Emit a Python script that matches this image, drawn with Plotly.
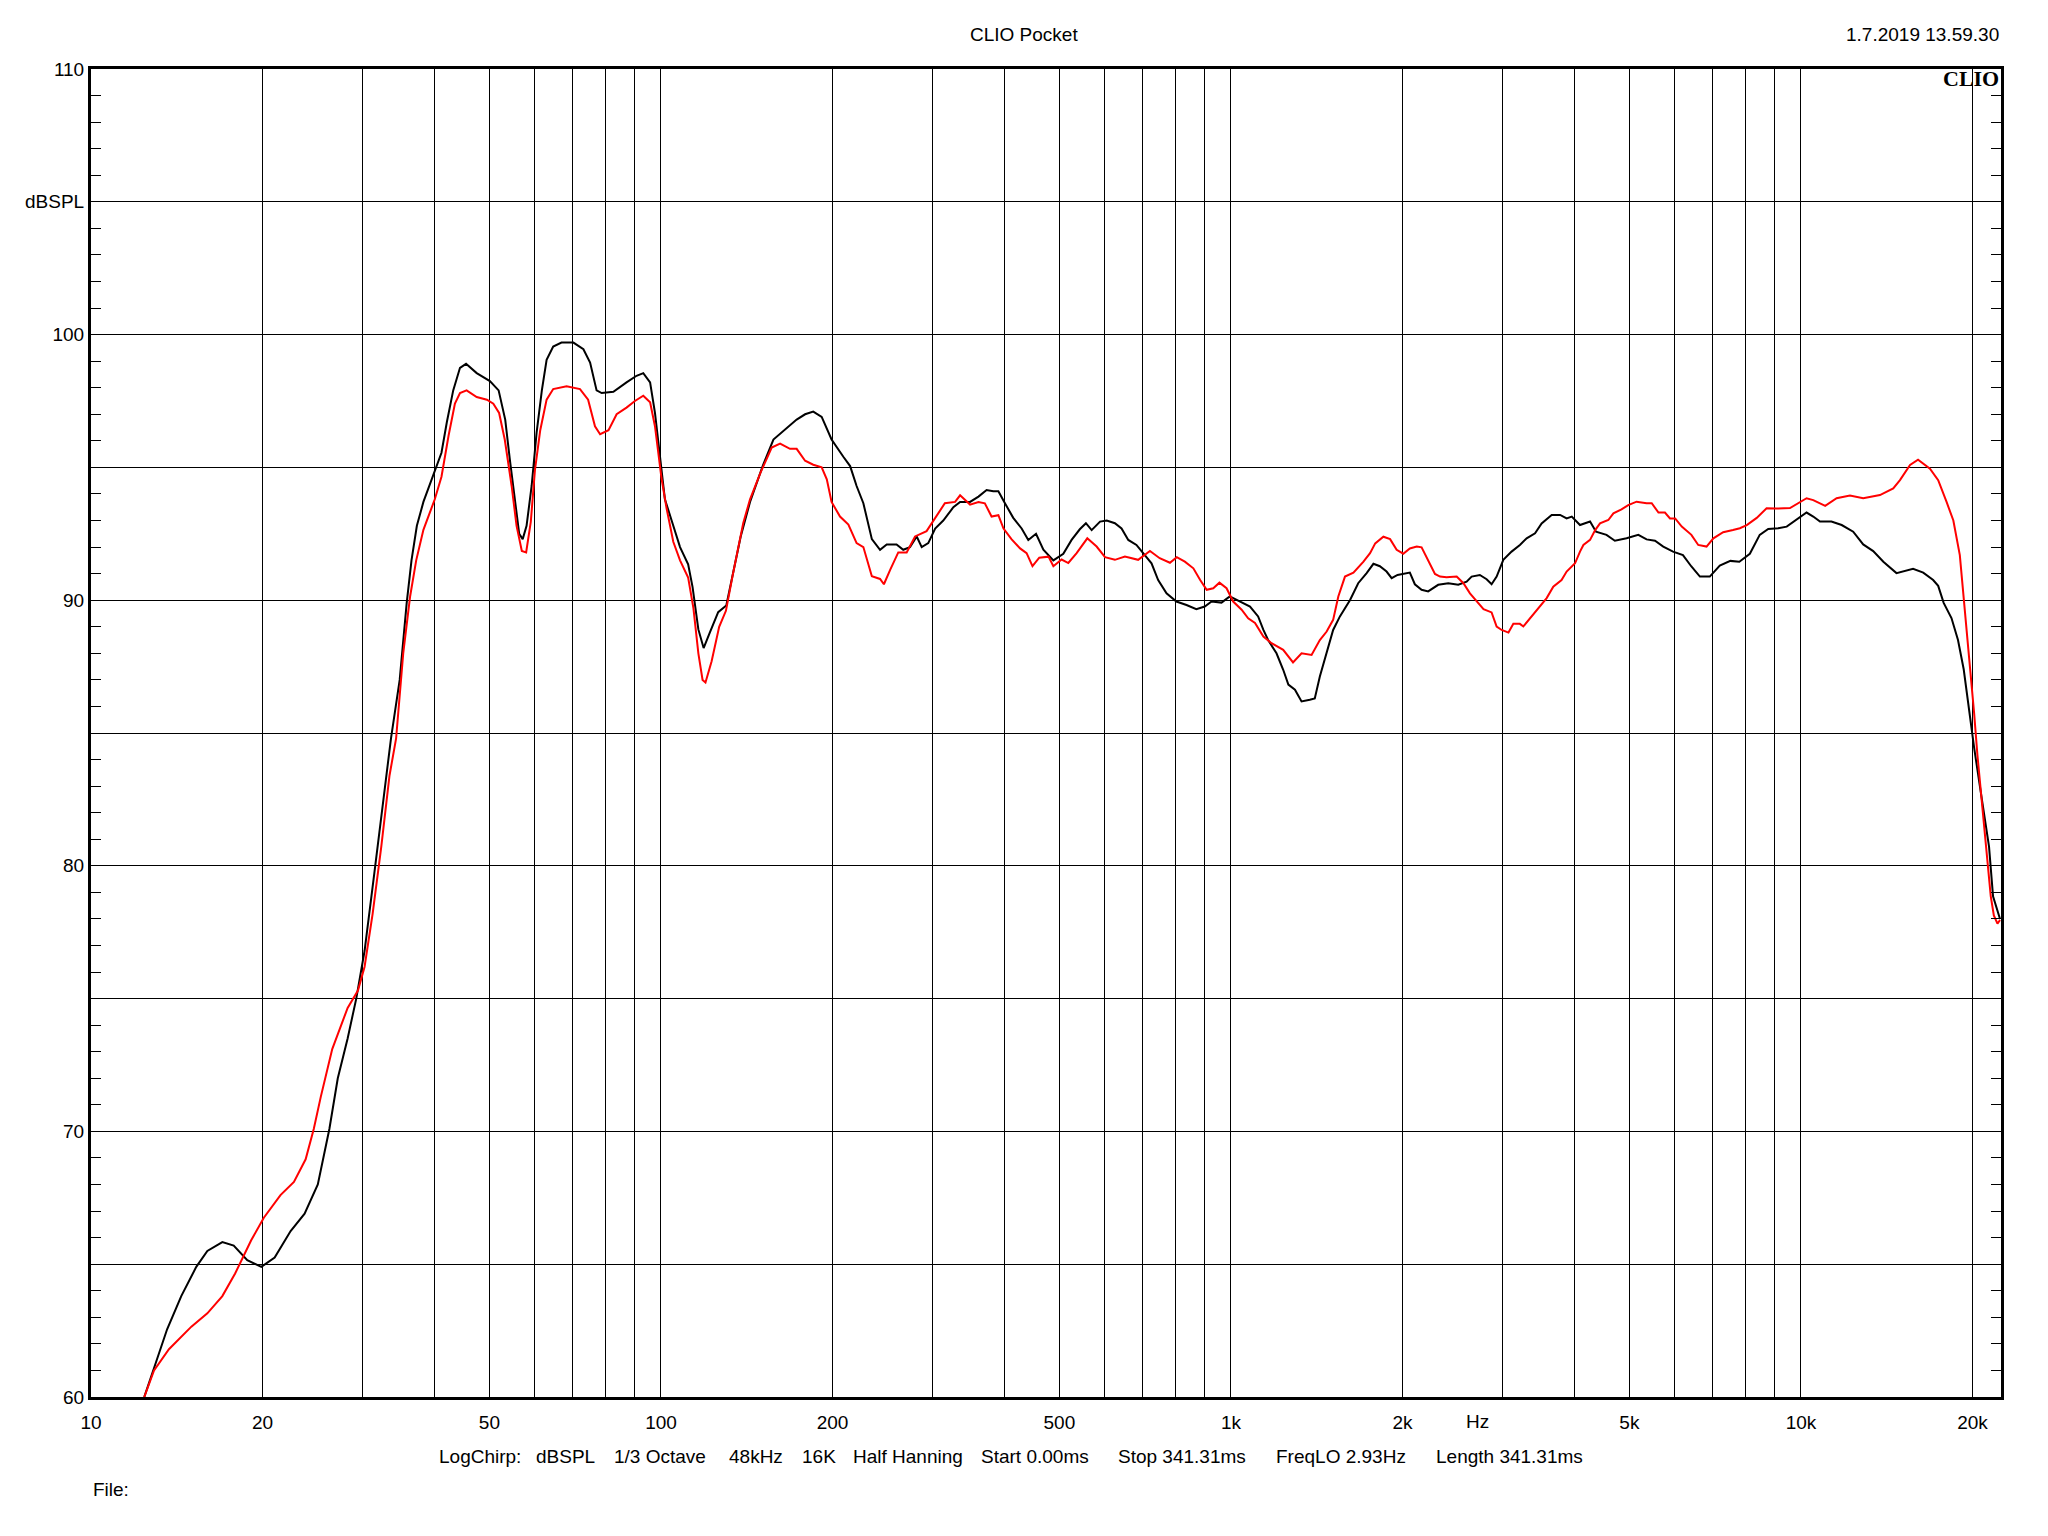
import plotly.graph_objects as go

# ---- data (frequency in Hz, level in dBSPL) ----
black_freq = [12.4, 13.6, 14.4, 15.3, 16.0, 17.0, 17.8, 18.8, 19.9, 21.0, 22.4, 23.7, 25.0, 26.2, 27.1, 28.2,
              29.2, 30.2, 31.4, 32.7, 33.6, 34.8, 35.8, 36.5, 37.3, 38.3, 39.9, 41.2, 42.1, 43.2, 44.4, 45.5,
              47.5, 50.1, 51.9, 53.3, 54.3, 55.5, 56.4, 57.2, 58.1, 59.3, 60.5, 61.8, 63.0, 64.7, 66.9, 70.2,
              73.1, 75.1, 77.1, 78.7, 82.5, 87.0, 90.6, 93.1, 95.7, 97.6, 99.6, 101.6, 104.4, 108.0, 111.6,
              113.6, 116.3, 118.8, 121.9, 126.0, 130.2, 133.9, 138.0, 143.3, 150.8, 157.5, 166.3, 173.0,
              179.0, 185.0, 191.4, 199.2, 208.9, 214.7, 220.4, 226.5, 234.4, 242.3, 248.9, 259.0, 266.1,
              273.4, 281.0, 286.7, 294.4, 302.7, 312.8, 325.8, 334.8, 348.5, 360.6, 372.6, 382.8, 390.8,
              401.3, 415, 429.3, 441, 455, 468.7, 488, 508, 525.3, 543, 556.6, 569.6, 589.3, 605.5, 625.7,
              642.7, 660.5, 682.6, 701.4, 725.5, 745.2, 770.8, 802.2, 835.6, 869.5, 899.5, 924.6, 962.5,
              995.2, 1036, 1080, 1116, 1140, 1162, 1202, 1235, 1261, 1295, 1330, 1375, 1403, 1432, 1472,
              1511, 1553, 1618, 1672, 1730, 1778, 1825, 1875, 1914, 1960, 2060, 2102, 2160, 2218, 2310,
              2406, 2505, 2591, 2644, 2733, 2809, 2866, 2925, 3005, 3107, 3213, 3302, 3416, 3508, 3653,
              3780, 3881, 3962, 4096, 4266, 4370, 4559, 4716, 4944, 5184, 5360, 5546, 5734, 5965, 6209,
              6424, 6649, 6920, 7205, 7520, 7797, 8135, 8466, 8762, 9123, 9441, 9825, 10230, 10510, 10800,
              11310, 11790, 12350, 12860, 13390, 13950, 14710, 15220, 15730, 16390, 17060, 17410, 17800,
              18370, 18860, 19300, 19700, 20130, 20550, 20960, 21380, 21730, 22120, 22350]
black_db = [60.0, 62.55, 63.8, 64.9, 65.5, 65.83, 65.7, 65.15, 64.9, 65.25, 66.25, 66.9, 68.0, 70.1, 72.0, 73.5,
            75.0, 76.8, 79.7, 82.7, 84.8, 87.0, 89.9, 91.5, 92.8, 93.7, 94.7, 95.55, 96.7, 97.9, 98.75, 98.9,
            98.55, 98.25, 97.9, 96.8, 95.3, 93.55, 92.5, 92.3, 92.8, 94.3, 96.3, 97.9, 99.05, 99.55, 99.7, 99.7,
            99.45, 98.95, 97.9, 97.8, 97.85, 98.2, 98.45, 98.55, 98.2, 97.05, 95.3, 93.8, 93.0, 92.0, 91.35,
            90.5, 88.9, 88.2, 88.8, 89.55, 89.8, 91.1, 92.4, 93.7, 95.05, 96.05, 96.5, 96.8,
            97.0, 97.1, 96.9, 96.05, 95.4, 95.05, 94.3, 93.65, 92.3, 91.9, 92.1, 92.1, 91.9,
            92.0, 92.4, 92.0, 92.15, 92.7, 93.0, 93.5, 93.7, 93.7, 93.9, 94.15, 94.1, 94.1,
            93.65, 93.1, 92.7, 92.27, 92.5, 91.9, 91.5, 91.75, 92.27, 92.67, 92.9, 92.64, 92.96, 93.0, 92.9,
            92.7, 92.27, 92.08, 91.77, 91.39, 90.76, 90.26, 89.95, 89.82, 89.66, 89.76, 89.95, 89.91,
            90.14, 89.95, 89.76, 89.39, 88.88, 88.5, 88.0, 87.38, 86.82, 86.63, 86.19, 86.25, 86.3, 87.13, 88.0,
            88.88, 89.39, 90.01, 90.64, 91.02, 91.37, 91.28, 91.08, 90.83, 90.95, 91.04, 90.6, 90.39, 90.33, 90.58,
            90.64, 90.58, 90.7, 90.89, 90.95, 90.79, 90.6, 90.89, 91.52, 91.83, 92.08, 92.33, 92.52, 92.89, 93.21,
            93.21, 93.08, 93.15, 92.83, 92.96, 92.58, 92.46, 92.24, 92.33, 92.46, 92.29, 92.24, 92.02, 91.83, 91.7,
            91.27, 90.89, 90.89, 91.3, 91.48, 91.45, 91.75, 92.46, 92.68, 92.71, 92.77, 93.05, 93.3, 93.15, 92.96,
            92.96, 92.83, 92.58, 92.1, 91.85, 91.45, 91.02, 91.1, 91.18, 91.04, 90.76, 90.54, 89.9,
            89.33, 88.5, 87.4, 85.9, 84.45, 83.16, 82.0, 80.72, 78.85, 78.27, 78.0]

red_freq = [12.4, 12.9, 13.7, 15.0, 16.0, 17.0, 17.9, 19.1, 20.1, 21.5, 22.7, 23.8, 24.6, 25.3, 26.5, 28.2,
            29.4, 30.2, 31.2, 32.3, 33.4, 34.3, 35.3, 36.3, 37.2, 38.3, 40.1, 41.2, 42.4, 43.5, 44.4, 45.6,
            47.5, 49.5, 50.8, 52.0, 53.2, 54.7, 55.8, 57.0, 58.0, 59.1, 60.1, 61.4, 63.0, 64.7, 68.3, 72.1,
            74.5, 76.6, 78.2, 80.9, 83.6, 87.0, 90.0, 93.1, 95.7, 97.6, 100.2, 102.3, 105.1, 108.0, 111.6,
            114.0, 116.3, 118.3, 119.7, 122.7, 126.5, 130.0, 133.5, 136.5, 139.4, 143.3, 149.5, 156.4,
            161.8, 168.4, 173.0, 179.0, 185.0, 191.4, 195.4, 199.2, 206.1, 213.2, 220.4, 226.5, 234.4,
            242.3, 246.1, 252.5, 260.8, 269.8, 279.1, 292.4, 304.7, 314.8, 328.1, 334.8, 348.5, 360.6,
            370.0, 380.2, 390.8, 399.0, 412, 426.6, 438, 448.5, 461, 478.5, 488, 504.5, 518.4, 536.1, 559.7,
            581.2, 601.2, 625.7, 651.6, 687.3, 720.9, 749.9, 781.5, 803.5, 830, 859.1, 883.1, 906.6, 931,
            954.5, 982.3, 1009, 1044, 1072, 1102, 1140, 1178, 1235, 1285, 1330, 1385, 1432, 1472, 1511,
            1543, 1585, 1640, 1708, 1754, 1791, 1851, 1902, 1953, 2006, 2060, 2118, 2160, 2218, 2280,
            2327, 2389, 2489, 2558, 2626, 2698, 2774, 2866, 2925, 2985, 3068, 3129, 3213, 3258, 3369,
            3482, 3580, 3677, 3802, 3881, 4015, 4096, 4153, 4266, 4355, 4441, 4593, 4688, 4844, 4978,
            5148, 5360, 5473, 5624, 5773, 5892, 6016, 6179, 6424, 6604, 6830, 7021, 7304, 7599, 7813,
            8035, 8364, 8704, 9060, 9568, 9955, 10230, 10510, 11030, 11550, 12190, 12860, 13760, 14520,
            14920, 15540, 16050, 16840, 17410, 18010, 18510, 19000, 19330, 19600, 19860, 20130, 20400,
            20700, 20960, 21250, 21530, 21800, 22120, 22350]
red_db = [60.0, 61.0, 61.8, 62.65, 63.15, 63.8, 64.65, 65.9, 66.75, 67.6, 68.1, 68.95, 70.1, 71.3, 73.1, 74.65,
          75.3, 76.2, 78.2, 80.7, 83.4, 84.8, 88.0, 90.15, 91.5, 92.65, 93.8, 94.65, 96.2, 97.4, 97.8, 97.9,
          97.65, 97.55, 97.4, 97.05, 96.05, 94.3, 92.8, 91.85, 91.8, 92.95, 94.9, 96.4, 97.55, 97.95, 98.05, 97.95,
          97.55, 96.55, 96.25, 96.4, 97.0, 97.25, 97.5, 97.7, 97.45, 96.55, 94.6, 93.45, 92.2, 91.5, 90.85,
          89.7, 88.0, 87.0, 86.9, 87.7, 89.0, 89.6, 90.9, 92.0, 92.9, 93.8, 94.8, 95.75,
          95.9, 95.7, 95.7, 95.25, 95.1, 95.0, 94.55, 93.7, 93.15, 92.85, 92.15, 92.0, 90.9,
          90.8, 90.6, 91.15, 91.8, 91.8, 92.4, 92.6, 93.2, 93.65, 93.7, 93.95, 93.6, 93.7,
          93.65, 93.15, 93.2, 92.7, 92.3, 91.95, 91.77, 91.28, 91.6, 91.64, 91.28, 91.53, 91.4, 91.77, 92.33,
          92.02, 91.62, 91.52, 91.64, 91.52, 91.85, 91.58, 91.41, 91.62, 91.45, 91.2, 90.76, 90.39, 90.45,
          90.66, 90.45, 89.95, 89.64, 89.32, 89.14, 88.63, 88.38, 88.13, 87.66, 88.0, 87.94, 88.5, 88.82, 89.26,
          90.14, 90.89, 91.04, 91.45, 91.77, 92.14, 92.39, 92.3, 91.9, 91.75, 91.95, 92.02, 91.99, 91.52, 90.99,
          90.89, 90.86, 90.89, 90.64, 90.26, 89.95, 89.66, 89.54, 89.01, 88.88, 88.78, 89.11, 89.11, 89.01, 89.39,
          89.76, 90.08, 90.51, 90.76, 91.08, 91.39, 91.83, 92.08, 92.27, 92.64, 92.89, 93.02, 93.27, 93.42, 93.58,
          93.71, 93.65, 93.65, 93.3, 93.3, 93.08, 93.08, 92.77, 92.46, 92.08, 92.02, 92.33, 92.56, 92.64, 92.71,
          92.83, 93.1, 93.46, 93.45, 93.47, 93.67, 93.84, 93.77, 93.55, 93.84, 93.94, 93.84, 93.96, 94.21,
          94.52, 95.09, 95.29, 94.95, 94.52, 93.7, 93.0, 91.7, 90.0, 88.62, 87.18, 85.75, 84.17,
          82.73, 81.44, 80.0, 78.85, 78.13, 77.82, 77.96]

grid_freqs = [10, 20, 30, 40, 50, 60, 70, 80, 90,
              100, 200, 300, 400, 500, 600, 700, 800, 900,
              1000, 2000, 3000, 4000, 5000, 6000, 7000, 8000, 9000,
              10000, 20000]
freq_labels = {10: "10", 20: "20", 50: "50", 100: "100", 200: "200", 500: "500",
               1000: "1k", 2000: "2k", 5000: "5k", 10000: "10k", 20000: "20k"}
db_ticks = [60, 65, 70, 75, 80, 85, 90, 95, 100, 105, 110]
db_labels = {60: "60", 70: "70", 80: "80", 90: "90", 100: "100", 105: "dBSPL", 110: "110"}
minor_db = [v for v in range(61, 110) if v % 5 != 0]

footer_items = ["LogChirp:", "dBSPL", "1/3 Octave", "48kHz", "16K", "Half Hanning",
                "Start 0.00ms", "Stop 341.31ms", "FreqLO 2.93Hz", "Length 341.31ms"]
footer_x_px = [437, 534, 612, 727, 800, 851, 979, 1116, 1274, 1434]

# ---- layout geometry (page pixels; the page body has an 8px margin) ----
OFF = 8
W, H = 2032, 1520
PL, PR, PT, PB = 91, 2001, 69, 1397          # plot area on the page
L, T = PL - OFF, PT - OFF
R, B = OFF + W - PR, OFF + H - PB
PW, PH = PR - PL, PB - PT


def px(x):
    return (x - PL) / PW


def py(y):
    return (PB - y) / PH


FONT = "Liberation Sans, Arial, sans-serif"
FS = 19

fig = go.Figure()
fig.add_trace(go.Scatter(x=black_freq, y=black_db, mode="lines",
                         line=dict(color="#000000", width=2), showlegend=False))
fig.add_trace(go.Scatter(x=red_freq, y=red_db, mode="lines",
                         line=dict(color="#ff0000", width=2), showlegend=False))

fig.update_xaxes(type="log", range=[1, 4.351],
                 tickmode="array", tickvals=grid_freqs,
                 ticktext=[freq_labels.get(f, "") for f in grid_freqs],
                 showgrid=True, gridcolor="#000000", gridwidth=1,
                 showline=True, linecolor="#000000", linewidth=3, mirror=True,
                 ticks="", zeroline=False, ticklabelstandoff=6,
                 tickfont=dict(family=FONT, size=FS, color="#000000"))
fig.update_yaxes(range=[60, 110],
                 tickmode="array", tickvals=db_ticks,
                 ticktext=[db_labels.get(v, "") for v in db_ticks],
                 showgrid=True, gridcolor="#000000", gridwidth=1,
                 showline=True, linecolor="#000000", linewidth=3, mirror="allticks",
                 ticks="", zeroline=False,
                 minor=dict(tickmode="array", tickvals=minor_db, ticks="inside",
                            ticklen=10, tickwidth=1, tickcolor="#000000", showgrid=False),
                 tickfont=dict(family=FONT, size=FS, color="#000000"))

annotations = [
    dict(text="CLIO Pocket", x=px(1024), y=py(34), xanchor="center", yanchor="middle"),
    dict(text="1.7.2019 13.59.30", x=1.0, y=py(34), xanchor="right", yanchor="middle"),
    dict(text="<b>CLIO</b>", x=1.0, y=py(79), xanchor="right", yanchor="middle",
         font=dict(family="Liberation Serif, Times New Roman, serif", size=22, color="#000000")),
    dict(text="Hz", x=px(1477), y=py(1421), xanchor="center", yanchor="middle"),
    dict(text="File:", x=0.0, y=py(1489), xanchor="left", yanchor="middle"),
]
for t, xp in zip(footer_items, footer_x_px):
    annotations.append(dict(text=t, x=px(xp), y=py(1456), xanchor="left", yanchor="middle"))

for a in annotations:
    a.setdefault("font", dict(family=FONT, size=FS, color="#000000"))
    a.update(xref="paper", yref="paper", showarrow=False)

fig.update_layout(width=W, height=H, margin=dict(l=L, r=R, t=T, b=B, pad=0),
                  paper_bgcolor="#ffffff", plot_bgcolor="#ffffff",
                  annotations=annotations, showlegend=False)

fig.write_html("out.html")
